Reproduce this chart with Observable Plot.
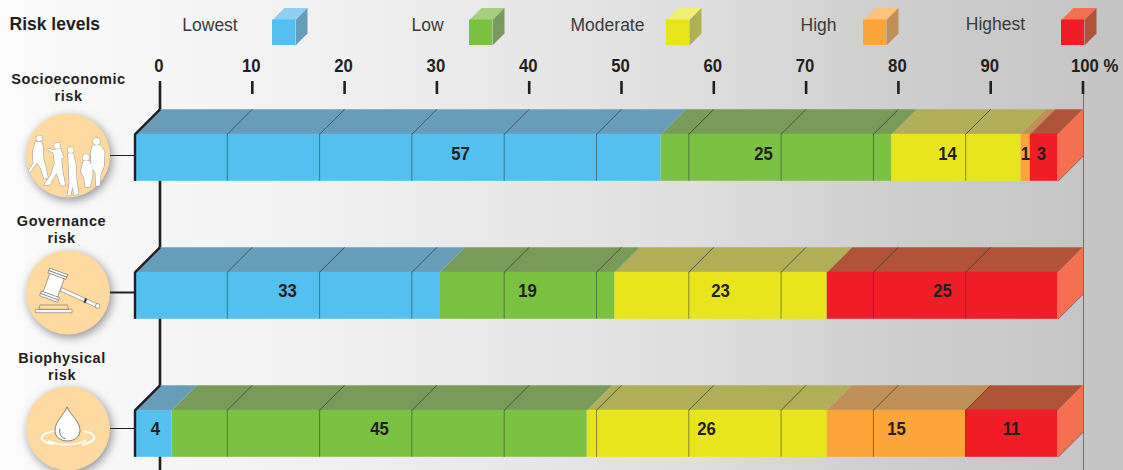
<!DOCTYPE html>
<html><head><meta charset="utf-8">
<script src="https://cdn.jsdelivr.net/npm/d3@7"></script>
<script src="https://cdn.jsdelivr.net/npm/@observablehq/plot@0.6"></script>
<style>
html,body{margin:0;padding:0;overflow:hidden;background:#fff}
.rowlabel text{letter-spacing:.55px}
.disc circle{filter:drop-shadow(2px 3px 5px rgba(60,60,70,.55))}
</style></head><body><div id="c"></div>
<script>
// ---- data
const rows = ["Socioeconomic\nrisk", "Governance\nrisk", "Biophysical\nrisk"];
const levels = ["Lowest", "Low", "Moderate", "High", "Highest"];
const socioeconomic = [57, 25, 14, 1, 3];
const governance = [33, 19, 23, 0, 25];
const biophysical = [4, 45, 26, 15, 11];
const axisTicks = [0, 10, 20, 30, 40, 50, 60, 70, 80, 90];
const gridTicks = [10, 20, 30, 40, 50, 60, 70, 80, 90];
// ---- styles
const frontColors = ["#53c0ef", "#7cc242", "#e8e51d", "#fca639", "#f01d26"];
const topColors = ["#689db9", "#799b5a", "#b0af57", "#bf9058", "#b05339"];
const lightColors = ["#8ed0f2", "#a5cf7e", "#f0ee74", "#fdc27b", "#f4704f"];
const sideColor = "#f4704f";
const ink = "#231f20";
// ---- layout helpers: pixel positions to scale units
const W = 1123, H = 470, PXU = 9.23, X0 = 134.5, Y0 = 133.8, ROW = 138;
const ux = p => (p - X0) / PXU, uy = p => (p - Y0) / ROW;
const BAR = 47 / ROW, DX = 25 / PXU, DY = 25 / ROW;
const labelPx = [[460, 763, 947, 1025, 1041], [287, 527, 720, 0, 942], [155, 379, 706, 896, 1011]];
const labelPy = [153, 290, 428.5];

const table = [socioeconomic, governance, biophysical];
const segs = [];
table.forEach((vals, r) => {
  let c = 0;
  vals.forEach((v, i) => {
    if (!v) return;
    const a = c, b = Math.min(100, c + v);
    c += v;
    segs.push({r, i, v, a, b});
  });
});
const poly = (items, fill, pts) => items.flatMap((d, k) => pts(d).map(([x, y]) => ({k, x, y, fill: fill(d)})));
const polyMark = data => Plot.line(data, {x: "x", y: "y", z: "k", fill: {value: d => d.fill, scale: null}, stroke: "none", curve: "linear-closed"});

const topFaces = poly(segs, d => topColors[d.i], d => [[d.a, d.r], [d.b, d.r], [d.b + DX, d.r - DY], [d.a + DX, d.r - DY]]);
const sideFaces = poly(rows.map((_, r) => r), () => sideColor, r => [[100, r], [100 + DX, r - DY], [100 + DX, r + BAR - DY], [100, r + BAR]]);

// legend
const legendPx = [272, 469, 666, 863, 1061];
const legendTextPx = [209.5, 427, 607, 818, 995];
const legendTextPy = [24.5, 24.5, 24.5, 24.5, 23.5];
const legendDepth = 12, legW = 23, legTop = 19.5, legBot = 45;
const legend = levels.map((l, i) => ({l, i, x1: ux(legendPx[i]), x2: ux(legendPx[i] + legW), y1: uy(legTop), y2: uy(legBot), tx: ux(legendTextPx[i]), ty: uy(legendTextPy[i])}));
const ldx = legendDepth / PXU, ldy = legendDepth / ROW;
const legTop3 = poly(legend, d => lightColors[d.i], d => [[d.x1, d.y1], [d.x2, d.y1], [d.x2 + ldx, d.y1 - ldy], [d.x1 + ldx, d.y1 - ldy]]);
const legSide = poly(legend, d => topColors[d.i], d => [[d.x2, d.y1], [d.x2 + ldx, d.y1 - ldy], [d.x2 + ldx, d.y2 - ldy], [d.x2, d.y2]]);

const discPy = [155, 292, 428], discPx = 67.5;
const rowLabelPy = [86.5, 228.5, 366], rowLabelPx = [68, 61, 61.5];
const connW = [1, 2, 1];

const grid = rows.flatMap((_, r) => gridTicks.map(t => ({r, t})));

const peopleShapes = `<circle cx="58" cy="91" r="9"/><circle cx="112" cy="113" r="9.5"/><circle cx="152" cy="126" r="9"/><circle cx="198" cy="148" r="10"/><circle cx="230" cy="100" r="11"/>
<path d="M46 102 L66 102 L70 125 L70 150 L78 180 L84 210 L72 212 L62 180 L50 165 L30 195 L26 188 L40 165 L38 130 Z"/>
<path d="M100 125 L122 122 L132 150 L124 152 L128 190 L136 232 L122 234 L110 195 L90 230 L72 232 L92 200 L104 165 L100 135 L78 122 L80 120 L100 126 Z"/>
<path d="M144 136 L160 136 L168 170 L170 215 L176 258 L162 262 L158 235 L152 262 L142 264 L148 225 L146 180 Z"/>
<path d="M190 158 L208 158 L218 180 L218 205 L210 238 L196 238 L192 210 L182 190 Z"/>
<path d="M218 112 L242 112 L254 130 L252 175 L242 200 L240 232 L228 235 L226 195 L214 175 L212 130 Z"/>`;
const iconPeople = `<g transform="translate(-47.5,-47) scale(.3333)"><g fill="#666" stroke="#666" stroke-width="2.5" stroke-linejoin="round">${peopleShapes}</g><g fill="#fff" stroke="#fff" stroke-width="1" stroke-linejoin="round">${peopleShapes}</g></g>`;
const iconGavel = `<g transform="translate(-47.5,-46) scale(.3333)" stroke="#444" stroke-width="1.3" stroke-linejoin="round" fill="#fff">
<path d="M125 125 L235 175 L231 185 L121 135 Z"/><circle cx="233" cy="180" r="7"/>
<path d="M196 157 L201 159 L196 171 L191 169 Z" fill="#333"/>
<g transform="rotate(20 102 118)"><rect x="78" y="88" width="46" height="60"/><rect x="72" y="74" width="58" height="8"/><rect x="72" y="82" width="58" height="7"/><rect x="72" y="147" width="58" height="8"/><rect x="72" y="155" width="58" height="7"/></g>
<path d="M46 190 L156 190 L156 200 L46 200 Z"/><path d="M60 177 L142 177 L146 190 L56 190 Z" fill="#fedaa0"/></g>`;
const iconDrop = `<g transform="translate(-47.5,-46) scale(.3333)">
<g fill="none" stroke="#fff" stroke-width="6" stroke-linecap="round">
<path d="M100 148 C72 152 55 168 70 176 C76 181 86 184 96 186"/><path d="M192 148 C222 152 232 170 215 177 C208 182 198 186 188 188"/>
<path d="M86 177 C115 192 160 192 196 176" stroke-width="5"/></g>
<path d="M141 75 C152 100 180 118 180 146 C180 165 162 177 143 177 C122 177 105 165 105 146 C105 118 131 100 141 75 Z" fill="#fff" stroke="#444" stroke-width="2"/>
<path d="M120 140 C116 155 124 168 136 170" fill="none" stroke="#555" stroke-width="2.5"/></g>`;
const icons = [iconPeople, iconGavel, iconDrop];

const chart = Plot.plot({
  width: W, height: H, margin: 0,
  style: {background: "linear-gradient(90deg,#fbfbfb 0%,#f0f0f0 30%,#dedede 62%,#cfcfcf 78%,#c4c4c4 100%)", fontFamily: "'Liberation Sans',Arial,sans-serif"},
  x: {domain: [ux(0), ux(W)], range: [0, W], axis: null},
  y: {domain: [uy(0), uy(H)], range: [0, H], axis: null},
  color: {domain: levels, range: frontColors},
  marks: [
    // axis lines behind the bars
    Plot.ruleX([DX], {y1: uy(81), y2: uy(H), stroke: ink, strokeWidth: 2.6}),
    Plot.ruleX([100 + DX], {dx: .5, y1: uy(94), y2: uy(H), stroke: "#6f6f6f", strokeWidth: 1}),
    Plot.ruleX([...gridTicks, 100], {x: d => d + DX, y1: uy(81), y2: uy(94), stroke: ink, strokeWidth: 2.6}),
    Plot.text(axisTicks, {x: d => d + DX, dx: -1, y: uy(65.5), text: d => String(d), fontSize: 19, fontWeight: 700, fill: ink, className: "num"}),
    Plot.text([100], {x: d => d + DX, dx: -12, y: uy(65.5), text: () => "100 %", textAnchor: "start", fontSize: 19, fontWeight: 700, fill: ink, className: "num"}),
    // bars
    polyMark(topFaces),
    polyMark(sideFaces),
    Plot.rect(segs, {x1: "a", x2: "b", y1: "r", y2: d => d.r + BAR, fill: d => levels[d.i]}),
    Plot.link(grid, {x1: "t", x2: d => d.t + DX, y1: "r", y2: d => d.r - DY, stroke: "#2b3a3a", strokeOpacity: .8, strokeWidth: .9}),
    Plot.ruleX(grid, {x: "t", y1: "r", y2: d => d.r + BAR, stroke: "#2b3a3a", strokeOpacity: .6, strokeWidth: .9}),
    Plot.ruleX(rows.map((_, r) => r), {x: 0, y1: d => d, y2: d => d + BAR, stroke: ink, strokeWidth: 2.4}),
    Plot.link(rows.map((_, r) => r), {x1: 0, x2: DX, y1: d => d, y2: d => d - DY, stroke: ink, strokeWidth: 2.4}),
    Plot.link(rows.map((_, r) => r), {x1: 100, x2: 100 + DX, y1: d => d + BAR, y2: d => d + BAR - DY, stroke: "#5a5050", strokeWidth: .7}),
    Plot.text(segs, {x: d => ux(labelPx[d.r][d.i]), y: d => uy(labelPy[d.r]), text: d => String(d.v), fontSize: 19, fontWeight: 700, fill: ink, className: "num"}),
    // row symbols
    Plot.ruleY(discPy, {y: uy, x1: ux(109), x2: 0, stroke: ink, strokeWidth: (d, i) => connW[i]}),
    Plot.dot(discPy, {x: ux(discPx), y: uy, r: 42, fill: "#fedaa0", stroke: "none", className: "disc"}),
    (index, scales) => {
      const g = d3.create("svg:g");
      discPy.forEach((p, i) => g.append("g").attr("transform", `translate(${scales.x(ux(discPx))},${scales.y(uy(p))})`).html(icons[i]));
      return g.node();
    },
    Plot.text(rows, {x: (d, i) => ux(rowLabelPx[i]), y: (d, i) => uy(rowLabelPy[i]), text: d => d, fontSize: 14.5, fontWeight: 700, fill: ink, lineHeight: 1.17, className: "rowlabel"}),
    // legend
    Plot.text(["Risk levels"], {x: ux(9), y: uy(24), text: d => d, textAnchor: "start", fontSize: 17.5, fontWeight: 700, fill: ink}),
    Plot.text(legend, {x: "tx", y: "ty", text: "l", fontSize: 17.5, fill: "#3a3a3a"}),
    polyMark(legTop3),
    polyMark(legSide),
    Plot.rect(legend, {x1: "x1", x2: "x2", y1: "y1", y2: "y2", fill: "l"})
  ]
});
// condensed digits, as in the reference's narrow bold face
chart.querySelectorAll(".num text").forEach(t => t.setAttribute("transform", (t.getAttribute("transform") || "") + " scale(.88,1)"));
document.getElementById("c").appendChild(chart);
</script></body></html>
